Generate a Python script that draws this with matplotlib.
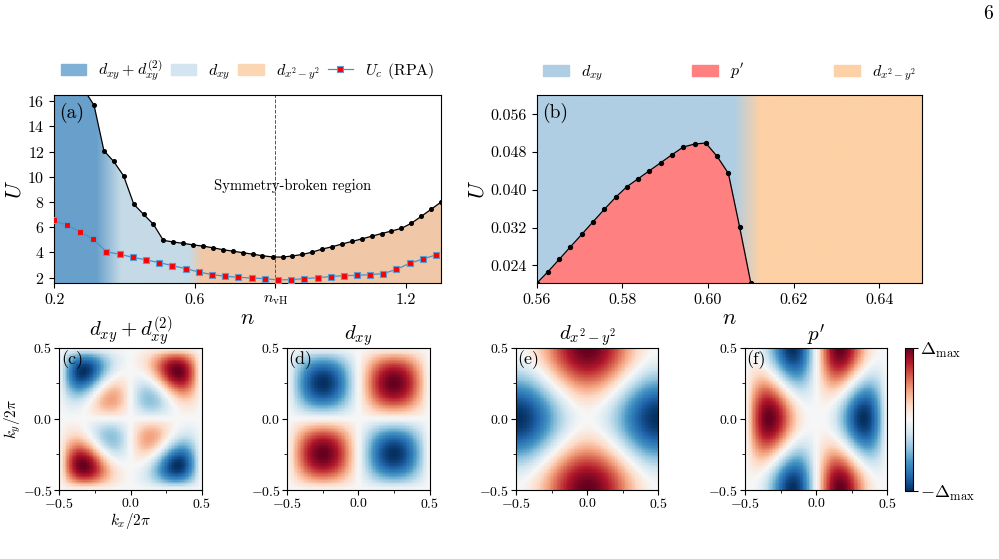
import numpy as np
import matplotlib
matplotlib.use("Agg")
import matplotlib.pyplot as plt
from matplotlib.patches import Polygon, Patch
from matplotlib.lines import Line2D
from matplotlib.colors import to_rgb

plt.rcParams['font.family'] = 'serif'
plt.rcParams['font.serif'] = ['cmr10']
plt.rcParams['mathtext.fontset'] = 'cm'
plt.rcParams['axes.formatter.use_mathtext'] = True
plt.rcParams['axes.unicode_minus'] = True

# ---- panel (a): phase boundary U(n) and RPA critical U ----
n_bound = [0.200, 0.228, 0.256, 0.285, 0.313, 0.341, 0.369, 0.397, 0.426, 0.454,
           0.482, 0.510, 0.538, 0.567, 0.595, 0.623, 0.651, 0.679, 0.708, 0.736,
           0.764, 0.792, 0.821, 0.849, 0.877, 0.905, 0.933, 0.962, 0.990, 1.018,
           1.046, 1.074, 1.103, 1.131, 1.159, 1.187, 1.215, 1.244, 1.272, 1.300]
U_bound = [24.0, 21.0, 18.5, 16.9, 15.68, 12.08, 11.22, 10.08, 7.83, 7.02,
           6.23, 4.96, 4.83, 4.72, 4.60, 4.50, 4.37, 4.22, 4.10, 3.98,
           3.86, 3.74, 3.64, 3.63, 3.72, 3.84, 4.02, 4.27, 4.45, 4.67,
           4.87, 5.07, 5.29, 5.50, 5.70, 5.91, 6.31, 6.87, 7.43, 8.00]

n_rpa = [0.200, 0.236, 0.273, 0.311, 0.348, 0.386, 0.424, 0.462, 0.499, 0.536,
         0.574, 0.611, 0.648, 0.686, 0.723, 0.761, 0.798, 0.836, 0.874, 0.911,
         0.949, 0.986, 1.023, 1.061, 1.098, 1.136, 1.173, 1.211, 1.249, 1.287]
U_rpa = [6.54, 6.15, 5.65, 5.04, 4.06, 3.85, 3.61, 3.40, 3.19, 2.95,
         2.71, 2.45, 2.24, 2.11, 2.03, 1.97, 1.92, 1.82, 1.84, 1.92,
         2.00, 2.08, 2.16, 2.18, 2.24, 2.32, 2.66, 3.14, 3.48, 3.82]

n_vH = 0.829
# phase transitions along n in (a): (start, end) of blending
a_phase_edges = [(0.32, 0.39), (0.585, 0.62)]
a_phase_colors = ['#68a0cb', '#c5dae6', '#f0c8a8']
a_legend_colors = ['#7fb1d7', '#d3e5f1', '#fcd5b3']
a_labels = [r'$d_{xy} + d_{xy}^{(2)}$', r'$d_{xy}$', r'$d_{x^2-y^2}$', r'$U_c$ (RPA)']

# ---- panel (b): zoom near n ~ 0.6, p' pocket ----
n_p = [0.56000, 0.56263, 0.56526, 0.56789, 0.57053, 0.57316, 0.57579, 0.57842,
       0.58105, 0.58368, 0.58632, 0.58895, 0.59158, 0.59421, 0.59684, 0.59947,
       0.60211, 0.60474, 0.60737, 0.61000]
U_p = [0.0202, 0.02264, 0.02527, 0.02794, 0.03057, 0.03324, 0.03587, 0.03841,
       0.04066, 0.04235, 0.04405, 0.04574, 0.04744, 0.04907, 0.0497, 0.04992,
       0.0471, 0.0435, 0.03212, 0.0202]
b_phase_edge = (0.606, 0.612)
b_colors = ['#b0cee3', '#ff8080', '#fdd0a5']
b_labels = [r'$d_{xy}$', r"$p'$", r'$d_{x^2-y^2}$']

# ---- panels (c)-(f): gap form factors on the square lattice ----
# (c): sin kx sin ky * (c0 + c1 (cos kx + cos ky))
mix_coef = [0.5, -1.0]
titles = [r'$d_{xy}+d_{xy}^{(2)}$', r'$d_{xy}$', r'$d_{x^2-y^2}$', r"$p'$"]
tags = ['(c)', '(d)', '(e)', '(f)']


def blend(xs, edges, colors):
    cols = np.array([to_rgb(c) for c in colors])
    # piecewise linear blending between consecutive phases
    pos = np.zeros(len(xs))
    for lo, hi in edges:
        pos += np.clip((xs - lo) / (hi - lo), 0, 1)
    idx = np.clip(np.floor(pos).astype(int), 0, len(colors) - 2)
    frac = pos - idx
    return cols[idx] * (1 - frac)[:, None] + cols[idx + 1] * frac[:, None]


fig = plt.figure(figsize=(9.99, 5.59), dpi=100)
leg_kw = dict(loc='lower left', bbox_to_anchor=(0, 1.03, 1, 0.1), mode='expand',
              frameon=False, borderaxespad=0, fontsize=11.5,
              handlelength=1.6, handletextpad=0.75)

# ================= (a) =================
ax = fig.add_axes([0.0544, 0.4932, 0.3871, 0.3369])
xlo, xhi, ylo, yhi = 0.2, 1.3, 1.55, 16.5
xs = np.linspace(xlo, xhi, 800)
img = blend(xs, a_phase_edges, a_phase_colors)[None, :, :]
im = ax.imshow(img, extent=[xlo, xhi, ylo, yhi], origin='lower', aspect='auto',
               interpolation='bilinear', zorder=0)
verts = list(zip(n_bound, U_bound)) + [(xhi, ylo - 1), (xlo, ylo - 1)]
clip = Polygon(verts, closed=True, facecolor='none', edgecolor='none',
               transform=ax.transData)
ax.add_patch(clip)
im.set_clip_path(clip)

ax.plot(n_bound, U_bound, 'o-', color='black', lw=0.9, ms=2.6, zorder=3)
ax.plot(n_rpa, U_rpa, 's-', color='#4a92c9', lw=0.9, ms=3.9,
        mfc='red', mec='#5b9bd0', mew=0.8, zorder=4)
ax.axvline(n_vH, color='#555555', ls='--', lw=0.7, zorder=2)
ax.text(0.877, 9.3, 'Symmetry-broken region', ha='center', va='center', fontsize=10.5)
ax.text(0.013, 0.96, '(a)', transform=ax.transAxes, ha='left', va='top', fontsize=14)

ax.set_xlim(xlo, xhi)
ax.set_ylim(ylo, yhi)
ax.set_xticks([0.2, 0.6, n_vH, 1.2])
ax.set_xticklabels(['0.2', '0.6', r'$n_{\rm vH}$', '1.2'])
ax.set_yticks([2, 4, 6, 8, 10, 12, 14, 16])
ax.tick_params(labelsize=11.5)
ax.set_xlabel(r'$n$', fontsize=16, labelpad=1)
ax.set_ylabel(r'$U$', fontsize=16, labelpad=2)

handles = [Patch(color=c) for c in a_legend_colors]
handles.append(Line2D([], [], color='#4a92c9', lw=0.9, marker='s', ms=3.9,
                      mfc='red', mec='#5b9bd0', mew=0.8))
ax.legend(handles, a_labels, ncol=4, **leg_kw)

# ================= (b) =================
ax = fig.add_axes([0.5372, 0.4932, 0.386, 0.3369])
xlo, xhi, ylo, yhi = 0.56, 0.65, 0.0202, 0.0601
xs = np.linspace(xlo, xhi, 800)
img = blend(xs, [b_phase_edge], [b_colors[0], b_colors[2]])[None, :, :]
ax.imshow(img, extent=[xlo, xhi, ylo, yhi], origin='lower', aspect='auto',
          interpolation='bilinear', zorder=0)
ax.fill_between(n_p, U_p, ylo, color=b_colors[1], lw=0, zorder=1)
ax.plot(n_p, U_p, 'o-', color='black', lw=0.9, ms=2.8, zorder=3)
ax.text(0.013, 0.96, '(b)', transform=ax.transAxes, ha='left', va='top', fontsize=14)
ax.set_xlim(xlo, xhi)
ax.set_ylim(ylo, yhi)
ax.set_xticks([0.56, 0.58, 0.60, 0.62, 0.64])
ax.set_xticklabels(['0.56', '0.58', '0.60', '0.62', '0.64'])
ax.set_yticks([0.024, 0.032, 0.040, 0.048, 0.056])
ax.set_yticklabels(['0.024', '0.032', '0.040', '0.048', '0.056'])
ax.tick_params(labelsize=11.5)
ax.set_xlabel(r'$n$', fontsize=16, labelpad=1)
ax.set_ylabel(r'$U$', fontsize=16, labelpad=2)
handles = [Patch(color=c) for c in b_colors]
ax.legend(handles, b_labels, ncol=3, **leg_kw)

# ================= (c)-(f) =================
k = np.linspace(-0.5, 0.5, 101)
KX, KY = np.meshgrid(2 * np.pi * k, 2 * np.pi * k)
sxsy = np.sin(KX) * np.sin(KY)
fields = [
    sxsy * (mix_coef[0] + mix_coef[1] * (np.cos(KX) + np.cos(KY))),
    sxsy,
    np.cos(KX) - np.cos(KY),
    np.sin(KX) * (np.cos(KX) - np.cos(KY)),
]
lefts = [0.0594, 0.2876, 0.5165, 0.7457]
for i, f in enumerate(fields):
    ax = fig.add_axes([lefts[i], 0.1234, 0.1425, 0.2546])
    f = f / np.abs(f).max()
    im = ax.imshow(f, extent=[-0.5, 0.5, -0.5, 0.5], origin='lower', cmap='RdBu_r',
                   vmin=-1, vmax=1, aspect='auto', interpolation='nearest')
    ax.set_xticks([-0.5, 0.0, 0.5])
    ax.set_yticks([-0.5, 0.0, 0.5])
    ax.set_xticks([-0.25, 0.25], minor=True)
    ax.set_yticks([-0.25, 0.25], minor=True)
    ax.tick_params(labelsize=10, pad=1.5)
    ax.set_title(titles[i], fontsize=15, pad=1)
    ax.text(0.01, 0.98, tags[i], transform=ax.transAxes, ha='left', va='top', fontsize=13)
    if i == 0:
        ax.set_xlabel(r'$k_x/2\pi$', fontsize=11, labelpad=0)
        ax.set_ylabel(r'$k_y/2\pi$', fontsize=11, labelpad=0)

cax = fig.add_axes([0.9059, 0.1216, 0.0083, 0.2558])
cb = fig.colorbar(im, cax=cax, ticks=[-1, 1])
cb.ax.set_yticklabels([r'$-\Delta_{\rm max}$', r'$\Delta_{\rm max}$'])
cb.ax.tick_params(labelsize=13, pad=1)

fig.text(0.989, 0.975, '6', ha='center', va='center', fontsize=14)

fig.savefig('out.png', dpi=100)
